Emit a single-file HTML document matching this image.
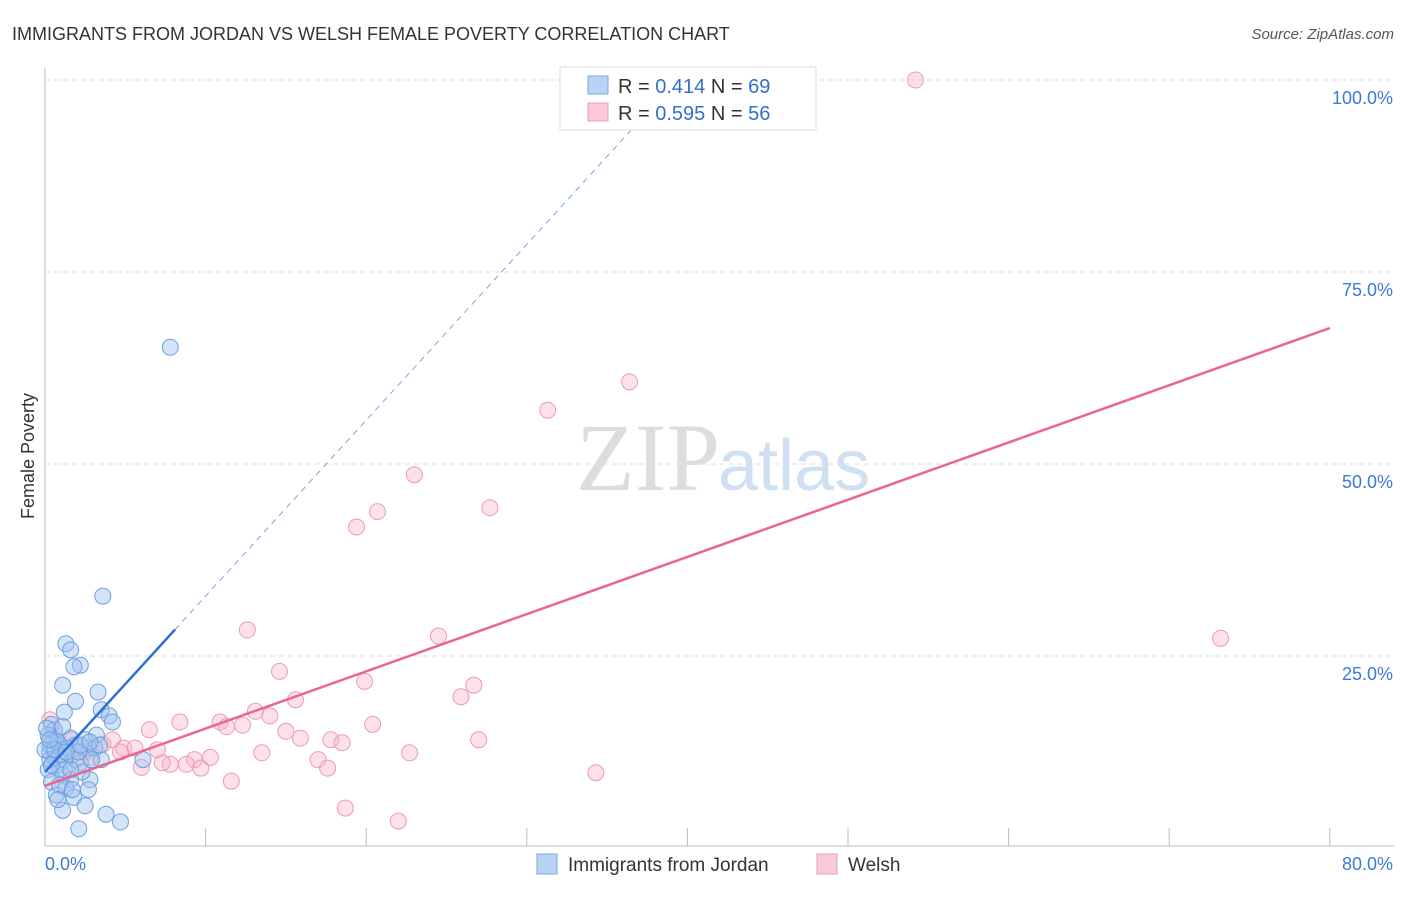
<!DOCTYPE html>
<html><head><meta charset="utf-8"><style>
body{margin:0;background:#fff;font-family:"Liberation Sans",sans-serif}
</style></head><body>
<svg id="c" width="1406" height="892" xmlns="http://www.w3.org/2000/svg">
<text x="12" y="40" font-size="18" fill="#333">IMMIGRANTS FROM JORDAN VS WELSH FEMALE POVERTY CORRELATION CHART</text>
<text x="1394" y="39" font-size="15" fill="#555" font-style="italic" text-anchor="end">Source: ZipAtlas.com</text>
<text x="34" y="456" font-size="18" fill="#333" transform="rotate(-90 34 456)" text-anchor="middle">Female Poverty</text>
<text x="720" y="490" font-size="96" fill="#ddd" text-anchor="end" font-family="Liberation Serif">ZIP</text>
<text x="718" y="490" font-size="72" fill="#cfe0f3">atlas</text>
<g id="grid"></g><g id="pts"></g><g id="lines"></g>
<g>
<rect x="560" y="67" width="256" height="63" fill="#fff" stroke="#ddd"/>
<rect x="588" y="76" width="20" height="18" fill="#b9d3f5" stroke="#7aa7e0"/>
<rect x="588" y="103" width="20" height="18" fill="#fac9d8" stroke="#ee9ab3"/>
<text x="618" y="93" font-size="20" fill="#333">R = <tspan fill="#3370cc">0.414</tspan>   N = <tspan fill="#3370cc">69</tspan></text>
<text x="618" y="120" font-size="20" fill="#333">R = <tspan fill="#3370cc">0.595</tspan>   N = <tspan fill="#3370cc">56</tspan></text>
</g>
<g>
<rect x="537" y="854" width="20" height="20" fill="#b9d3f5" stroke="#7aa7e0"/>
<text x="568" y="871" font-size="19" fill="#333">Immigrants from Jordan</text>
<rect x="817" y="854" width="20" height="20" fill="#fac9d8" stroke="#ee9ab3"/>
<text x="848" y="871" font-size="19" fill="#333">Welsh</text>
</g>
</svg>
<script>
const blueX=[7.8,3.6,1.3,1.6,2.2,1.8,1.1,3.3,1.9,1.2,3.5,4.0,4.2,0.4,3.2,1.6,0.5,0.9,2.7,3.5,6.1,0.3,0.6,1.2,1.7,2.2,0.8,0.2,1.1,1.6,2.8,0.4,1.3,2.7,1.8,2.5,1.1,3.8,4.7,2.1,0.6,0.3,0.9,1.9,2.5,3.1,0.3,1.2,3.4,0.0,0.2,0.8,1.4,2.1,2.3,0.7,0.9,1.6,2.9,0.6,1.1,0.1,0.4,1.3,2.2,2.8,1.7,0.8,0.3];
const blueY=[65.2,32.8,26.6,25.8,23.8,23.6,21.2,20.3,19.1,17.7,18.0,17.2,16.4,16.1,14.7,14.3,14.1,13.4,13.0,11.5,11.5,12.5,11.7,11.5,12.1,11.1,10.8,10.2,9.5,8.9,8.9,8.6,7.8,7.6,6.6,5.5,4.9,4.4,3.4,2.5,15.4,13.4,12.1,13.4,14.1,13.0,11.5,10.2,13.4,12.8,14.7,13.8,13.0,12.5,9.9,6.9,8.2,10.2,11.5,12.8,15.8,15.6,10.8,12.5,13.4,13.8,7.6,6.3,14.1];
const pinkX=[54.2,36.4,31.3,23.0,27.7,20.7,19.4,12.6,24.5,73.2,14.6,26.7,19.9,25.9,15.6,8.4,10.9,11.3,13.1,14.0,12.3,20.4,6.5,15.0,15.9,27.0,17.8,18.5,4.2,3.6,4.9,5.6,7.0,4.7,13.5,22.7,10.3,17.0,9.3,7.8,7.3,8.8,6.0,9.7,17.6,11.6,34.3,18.7,22.0,0.3,0.6,0.9,1.6,2.5,2.8,1.9];
const pinkY=[100,60.7,57.0,48.6,44.3,43.8,41.8,28.4,27.6,27.3,23.0,21.2,21.7,19.7,19.3,16.4,16.4,15.8,17.8,17.2,16.0,16.1,15.4,15.2,14.3,14.1,14.1,13.7,14.1,13.5,13.0,13.0,12.8,12.5,12.4,12.4,11.8,11.5,11.5,10.9,11.1,10.9,10.5,10.4,10.4,8.7,9.8,5.2,3.5,16.7,14.7,13.4,14.1,12.5,11.8,11.5];
const yTicks=[25,50,75,100];
const yTickLabels=["25.0%","50.0%","75.0%","100.0%"];
const xTicks=[0,10,20,30,40,50,60,70,80];
const blueTrend=[9.9,2.29];
const pinkTrend=[8.1,0.745];
const X=v=>45+v*16.06, Y=v=>848-v*7.68;
const NS="http://www.w3.org/2000/svg";
function mk(p,t,a){const e=document.createElementNS(NS,t);for(const k in a)e.setAttribute(k,a[k]);p.appendChild(e);return e;}
const g=document.getElementById('grid');
let e=mk(g,'line',{x1:45,y1:68,x2:45,y2:846,stroke:'#bbb'});

e=mk(g,'line',{x1:45,y1:846,x2:1394,y2:846,stroke:'#bbb'});

yTicks.forEach((t,i)=>{
 let l=mk(g,'line',{x1:45,y1:Y(t),x2:1394,y2:Y(t),stroke:'#ddd','stroke-dasharray':'5,4'});
 
 let tx=mk(g,'text',{x:1393,y:Y(t)+24,'font-size':18,fill:'#3d7ad6','text-anchor':'end'});tx.textContent=yTickLabels[i];
 
});
xTicks.forEach(t=>{
 if(t===0)return;
 let l=mk(g,'line',{x1:X(t),y1:828,x2:X(t),y2:846,stroke:'#bbb'});
 
});
let t0=mk(g,'text',{x:45,y:870,'font-size':18,fill:'#3d7ad6'});t0.textContent='0.0%';

let t1=mk(g,'text',{x:1393,y:870,'font-size':18,fill:'#3d7ad6','text-anchor':'end'});t1.textContent='80.0%';

const p=document.getElementById('pts');
pinkX.forEach((x,i)=>{let c=mk(p,'circle',{cx:X(x),cy:Y(pinkY[i]),r:8,fill:'rgba(248,180,200,0.4)',stroke:'#ee9ab3','stroke-width':1});
});
blueX.forEach((x,i)=>{let c=mk(p,'circle',{cx:X(x),cy:Y(blueY[i]),r:8,fill:'rgba(160,195,240,0.45)',stroke:'#6d9ee0','stroke-width':1});
});
const L=document.getElementById('lines');
let b1=mk(L,'line',{x1:X(0),y1:Y(blueTrend[0]),x2:X(8.1),y2:Y(blueTrend[0]+blueTrend[1]*8.1),stroke:'#2a6fd6','stroke-width':2.5});

let b2=mk(L,'line',{x1:X(8.1),y1:Y(blueTrend[0]+blueTrend[1]*8.1),x2:X(37),y2:Y(blueTrend[0]+blueTrend[1]*37),stroke:'#7aa7e0','stroke-width':1,'stroke-dasharray':'6,5'});

let pl=mk(L,'line',{x1:X(0),y1:Y(pinkTrend[0]),x2:X(80),y2:Y(pinkTrend[0]+pinkTrend[1]*80),stroke:'#e8668f','stroke-width':2.5});

</script>
</body></html>
